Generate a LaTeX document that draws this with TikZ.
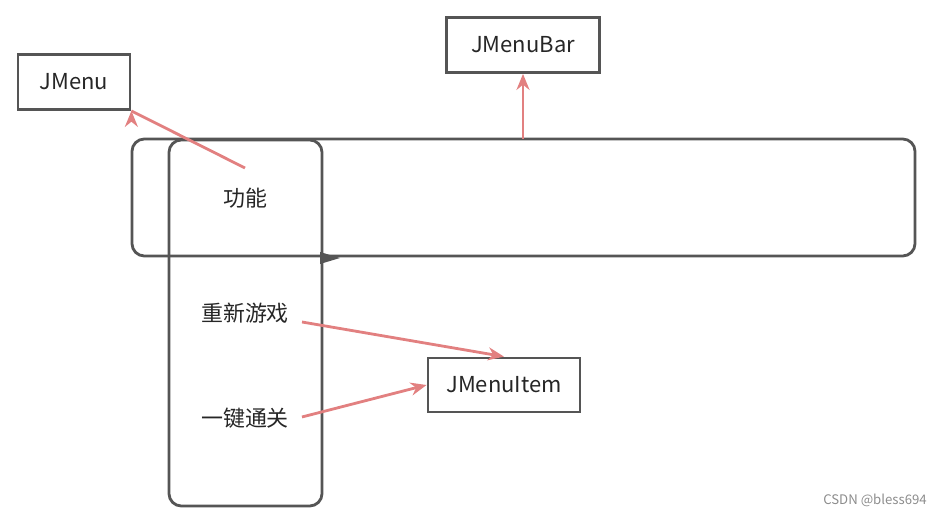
\documentclass[tikz,border=0pt]{standalone}
\usepackage{fontspec}
\setmainfont{Noto Sans CJK SC}
\usetikzlibrary{arrows.meta, positioning}
\definecolor{EdgeGray}{RGB}{85, 85, 85}
\definecolor{LinkPink}{RGB}{226, 128, 128}
\begin{document}
\begin{tikzpicture}[
            x=0.02cm, y=-0.02cm,
            every node/.style={font=\fontsize{12.5}{15}\selectfont, text=black!85},
            box/.style={rectangle, draw=EdgeGray, line width=1.6pt, inner sep=0pt},
            frame/.style={draw=EdgeGray, line width=1.6pt, rounded corners=7pt},
            arrow/.style={-{Stealth[length=3.2mm, width=2.6mm]}, line width=1.6pt, LinkPink}
        ]
            \useasboundingbox (0,0) rectangle (944,516);
            % outer frames
            \draw[frame] (132,139) rectangle (915,256);
            \draw[frame] (169,140) rectangle (322,506);
            \fill[EdgeGray] (320,252) -- (340,258) -- (320,264) -- cycle;

            \node[box, minimum width=2.24cm, minimum height=1.1cm] (menu) at (74,82) {JMenu};
            \node[box, minimum width=3.06cm, minimum height=1.1cm] (bar) at (523,45) {JMenuBar};
            \node[box, minimum width=3.04cm, minimum height=1.08cm] (item) at (504,385) {JMenuItem};

            \node (func) at (245,198) {功能};
            \node (restart) at (245,313) {重新游戏};
            \node (pass) at (245,418) {一键通关};
            \coordinate (barTop) at (523,139);
            \coordinate (funcTop) at (245,168);
            \coordinate (restartEnd) at (302,322);
            \coordinate (passEnd) at (302,417);

            \draw[arrow] (funcTop) -- (menu.south east) ++(0,0);
            \draw[arrow] (barTop) -- (bar.south);
            \draw[arrow] (restartEnd) -- (item.north);
            \draw[arrow] (passEnd) -- (item.west);

            \node[font=\fontsize{7.5}{9}\selectfont, text=black!45] (mark) at (875,500) {CSDN @bless694};
        \end{tikzpicture}
\end{document}
